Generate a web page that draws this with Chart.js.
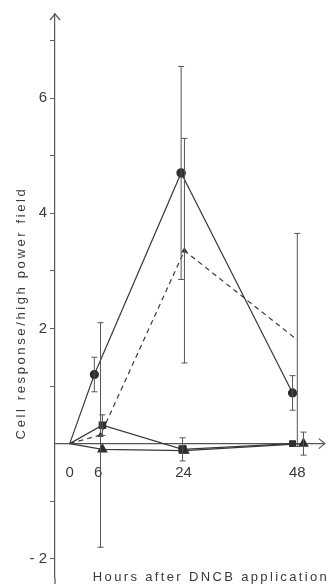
<!DOCTYPE html>
<html>
<head>
<meta charset="utf-8">
<script src="https://cdn.jsdelivr.net/npm/chart.js@4/dist/chart.umd.min.js"></script>
<style>
  html, body { margin: 0; padding: 0; background: #ffffff; }
  #wrap { width: 331px; height: 584px; position: relative; }
</style>
</head>
<body>
<div id="wrap"><canvas id="c" width="331" height="584"></canvas></div>
<script>
// ---- data ----
const xTickValues = [0, 6, 24, 48];
const yTickValues = [-2, -1, 1, 2, 3, 4, 5, 6, 7];
const yLabelValues = [-2, 2, 4, 6];

const circleX   = [0, 5.2, 23.5, 47.0];
const circleY   = [0, 1.2, 4.7, 0.88];
const circleErr = [0, 0.3, 1.85, 0.3];

const dashedX   = [0, 6.5, 24.2, 48.0];
const dashedY   = [0, 0.15, 3.35, 1.8];
const dashedErr = [0, 1.95, 1.95, 1.85];

const squareX   = [0, 6.9, 23.8, 47.0];
const squareY   = [0, 0.32, -0.1, 0.0];
const squareErr = [0, 0.18, 0.2, 0];

const triX      = [0, 6.9, 24.2, 49.3];
const triY      = [0, -0.1, -0.12, 0.0];
const triErr    = [0, 0, 0, 0.2];

const xTitle = 'Hours after DNCB application';
const yTitle = 'Cell response/high power field';

const INK = '#3a3a3a';
const FONT = '"Liberation Sans", Arial, sans-serif';

function pts(xs, ys) { return xs.map((x, i) => ({ x: x, y: ys[i] })); }

const errorBars = {
  id: 'errorBars',
  afterDatasetsDraw(chart) {
    const ctx = chart.ctx, xs = chart.scales.x, ys = chart.scales.y;
    ctx.save();
    ctx.strokeStyle = '#555';
    ctx.lineWidth = 1;
    chart.data.datasets.forEach(ds => {
      if (!ds.err) return;
      ds.data.forEach((p, i) => {
        const e = ds.err[i];
        if (!e) return;
        const px = xs.getPixelForValue(p.x);
        const y1 = ys.getPixelForValue(p.y + e);
        const y2 = ys.getPixelForValue(p.y - e);
        ctx.beginPath();
        ctx.moveTo(px, y1); ctx.lineTo(px, y2);
        ctx.moveTo(px - 3, y1); ctx.lineTo(px + 3, y1);
        ctx.moveTo(px - 3, y2); ctx.lineTo(px + 3, y2);
        ctx.stroke();
      });
    });
    ctx.restore();
  }
};

const decor = {
  id: 'decor',
  afterDraw(chart) {
    const ctx = chart.ctx, a = chart.chartArea, ys = chart.scales.y;
    const y0 = ys.getPixelForValue(0);
    ctx.save();
    ctx.strokeStyle = '#555';
    ctx.lineWidth = 1.2;
    // arrow heads and continuation of the y axis to the page edge
    ctx.beginPath();
    ctx.moveTo(a.left - 5, a.top + 6); ctx.lineTo(a.left, a.top); ctx.lineTo(a.left + 5, a.top + 6);
    ctx.moveTo(a.right - 6, y0 - 5); ctx.lineTo(a.right, y0); ctx.lineTo(a.right - 6, y0 + 5);
    ctx.moveTo(a.left, a.bottom); ctx.lineTo(a.left, chart.height);
    ctx.stroke();
    // titles
    ctx.fillStyle = INK;
    ctx.font = '13px ' + FONT;
    ctx.textAlign = 'center';
    ctx.textBaseline = 'middle';
    function fitText(txt, w) {
      ctx.letterSpacing = '0px';
      const base = ctx.measureText(txt).width;
      const ls = Math.max(0, (w - base) / (txt.length - 1));
      ctx.letterSpacing = ls.toFixed(2) + 'px';
    }
    fitText(xTitle, 234);
    ctx.fillText(xTitle, 211, 577);
    ctx.save();
    ctx.translate(21, 313);
    ctx.rotate(-Math.PI / 2);
    fitText(yTitle, 250);
    ctx.fillText(yTitle, 0, 0);
    ctx.restore();
    ctx.restore();
  }
};

const lineCommon = {
  showLine: true,
  borderColor: INK,
  backgroundColor: '#2e2e2e',
  pointBorderColor: '#2e2e2e',
  borderWidth: 1.2,
  tension: 0
};

new Chart(document.getElementById('c'), {
  type: 'scatter',
  data: {
    datasets: [
      Object.assign({}, lineCommon, { label: 'circle', data: pts(circleX, circleY), err: circleErr,
        pointStyle: 'circle', pointRadius: [0, 4, 4.2, 4] }),
      Object.assign({}, lineCommon, { label: 'dashed', data: pts(dashedX, dashedY), err: dashedErr,
        borderDash: [5, 4], pointStyle: 'triangle', pointRadius: [0, 2.5, 2.5, 0] }),
      Object.assign({}, lineCommon, { label: 'square', data: pts(squareX, squareY), err: squareErr,
        pointStyle: 'rect', pointRadius: [0, 4.5, 5, 4] }),
      Object.assign({}, lineCommon, { label: 'triangle', data: pts(triX, triY), err: triErr,
        pointStyle: 'triangle', pointRadius: [0, 5, 5, 5] })
    ]
  },
  options: {
    responsive: false,
    animation: false,
    layout: { padding: { top: 14, right: 1, bottom: 0, left: 0 } },
    plugins: { legend: { display: false }, tooltip: { enabled: false }, title: { display: false } },
    scales: {
      x: {
        type: 'linear',
        min: -3.1, max: 53.8,
        position: { y: 0 },
        afterBuildTicks: s => { s.ticks = xTickValues.map(v => ({ value: v })); },
        grid: { display: false, drawTicks: false },
        border: { display: true, color: '#555', width: 1.2 },
        ticks: { color: INK, font: { family: FONT, size: 15 }, padding: 20, maxRotation: 0,
          callback: v => String(v) }
      },
      y: {
        type: 'linear',
        min: -2.33, max: 7.46,
        afterFit: s => { s.width = 55; s.paddingTop = 0; s.paddingBottom = 0; },
        afterBuildTicks: s => { s.ticks = yTickValues.map(v => ({ value: v })); },
        grid: { display: true, drawOnChartArea: false, drawTicks: true, tickLength: 5, color: '#666' },
        border: { display: true, color: '#555', width: 1.2 },
        ticks: { color: INK, font: { family: FONT, size: 15 }, padding: 3,
          callback: v => (yLabelValues.includes(v) ? (v < 0 ? '- ' + Math.abs(v) : String(v)) : '') }
      }
    }
  },
  plugins: [errorBars, decor]
});
</script>
</body>
</html>
